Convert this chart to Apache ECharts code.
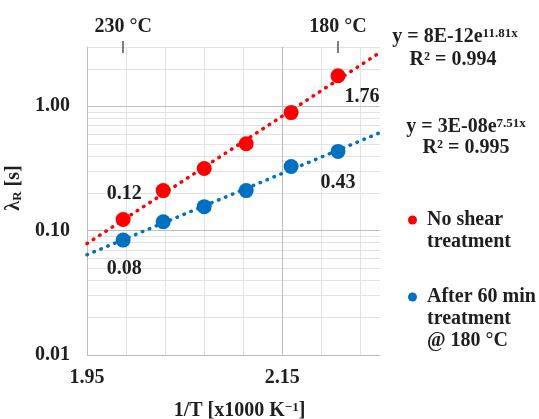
<!DOCTYPE html>
<html>
<head>
<meta charset="utf-8">
<script src="https://cdn.jsdelivr.net/npm/echarts@6/dist/echarts.min.js"></script>
<style>
  html, body { margin: 0; padding: 0; background: #fff; }
  #chart { width: 539px; height: 419px; }
</style>
</head>
<body>
<div id="chart"></div>
<script>
// Inverse temperature, 1000/T [1/K], for 230 ... 180 °C
const INV_T = [1.987, 2.028, 2.070, 2.113, 2.159, 2.207];
// Relaxation time λR [s]
const NO_SHEAR = [0.123, 0.21, 0.316, 0.50, 0.89, 1.76];
const AFTER_SHEAR = [0.084, 0.118, 0.156, 0.21, 0.328, 0.434];

const SERIES_NAMES = ['No shear treatment', 'After 60 min treatment @ 180 °C'];
// Legend text: the leading blank lines keep the marker beside the first line
const LEGEND_TEXT = ['\nNo shear\ntreatment', '\n\nAfter 60 min\ntreatment\n@ 180 °C'];

// Secondary (temperature) ticks on the top edge
const TOP_TICK_X = [1.987, 2.207];
const TOP_TICK_LABELS = ['230 °C', '180 °C'];

// Fitted equations shown beside the plot
const EQ_NO_SHEAR = ['8E-12e', '11.81x', '0.994'];
const EQ_AFTER_SHEAR = ['3E-08e', '7.51x', '0.995'];

// Axis ranges and gridlines
const X_MIN = 1.95, X_MAX = 2.25, X_STEP = 0.04;
const X_LABELS = [1.95, 2.15];
const X_MAJOR = [2.15];
const Y_MIN = 0.01, Y_MAX = 3;
const Y_MAJOR = [0.1, 1];
const Y_MINOR = [0.02, 0.03, 0.04, 0.05, 0.06, 0.07, 0.08, 0.09,
                 0.2, 0.3, 0.4, 0.5, 0.6, 0.7, 0.8, 0.9, 2, 3];

const RED = '#ff0000';
const BLUE = '#0070c0';
const TEXT = '#1f1f1f';
const FONT = 'Liberation Serif';
const FS = 20;
const FS_SMALL = 13;
const MINOR_GRID = '#e3e3e3';
const MAJOR_GRID = '#bfbfbf';

// Exponential least-squares fit  y = a * e^(b x)
function expFit(xs, ys) {
  const n = xs.length;
  const ly = ys.map(Math.log);
  const mx = xs.reduce((s, v) => s + v, 0) / n;
  const my = ly.reduce((s, v) => s + v, 0) / n;
  let sxy = 0, sxx = 0;
  for (let i = 0; i < n; i++) {
    sxy += (xs[i] - mx) * (ly[i] - my);
    sxx += (xs[i] - mx) * (xs[i] - mx);
  }
  const b = sxy / sxx;
  const a = Math.exp(my - b * mx);
  return x => a * Math.exp(b * x);
}

function trend(ys) {
  const f = expFit(INV_T, ys);
  return [[X_MIN, f(X_MIN)], [X_MAX, f(X_MAX)]];
}

const labelFont = { fontFamily: FONT, fontWeight: 'bold', fontSize: FS, color: TEXT };
const supStyle = { fontFamily: FONT, fontWeight: 'bold', fontSize: FS_SMALL, color: TEXT, verticalAlign: 'top', padding: [0, 0, 7, 0] };

// Points with value labels on the first and last marker only
function points(ys, firstOffset, lastOffset) {
  return ys.map((y, i) => {
    const item = { value: [INV_T[i], y] };
    if (i === 0 || i === ys.length - 1) {
      item.label = Object.assign({
        show: true,
        position: 'inside',
        offset: i === 0 ? firstOffset : lastOffset,
        formatter: p => p.value[1].toFixed(2)
      }, labelFont);
    }
    return item;
  });
}

const chart = echarts.init(document.getElementById('chart'), null, { renderer: 'canvas' });

const dotted = width => ({ width: width, type: [0.5, 7], cap: 'round' });

function gridLine(key, v, color) {
  const item = { lineStyle: { color: color, width: 1, type: 'solid' } };
  item[key] = v;
  return item;
}

function equation(x, y, parts) {
  return {
    type: 'text', x: x, y: y, silent: true,
    style: {
      text: '{b|y = ' + parts[0] + '}{sup|' + parts[1] + '}',
      align: 'center', verticalAlign: 'middle',
      rich: {
        b: { fontFamily: FONT, fontWeight: 'bold', fontSize: FS, fill: TEXT },
        sup: { fontFamily: FONT, fontWeight: 'bold', fontSize: FS_SMALL, fill: TEXT, verticalAlign: 'top', padding: [0, 0, 7, 0] }
      }
    }
  };
}

function rSquared(x, y, value) {
  return {
    type: 'text', x: x, y: y, silent: true,
    style: {
      text: 'R² = ' + value,
      align: 'center', verticalAlign: 'middle',
      font: 'bold ' + FS + 'px "' + FONT + '"', fill: TEXT
    }
  };
}

chart.setOption({
  animation: false,
  backgroundColor: '#ffffff',
  textStyle: { fontFamily: FONT },
  grid: { left: 87, right: 159, top: 47, bottom: 64, containLabel: false, outerBoundsMode: 'none' },
  xAxis: [
    {
      type: 'value',
      min: X_MIN, max: X_MAX, interval: X_STEP,
      axisLine: { show: true, lineStyle: { color: MAJOR_GRID, width: 1 } },
      axisTick: { show: false },
      splitLine: { show: true, showMaxLine: false, lineStyle: { color: MINOR_GRID, width: 1 } },
      axisLabel: Object.assign({
        margin: 13,
        showMaxLabel: false,
        formatter: v => X_LABELS.some(t => Math.abs(t - v) < 1e-6) ? v.toFixed(2) : ''
      }, labelFont),
      name: '1/T [x1000 K{sup|−1}]',
      nameLocation: 'middle',
      nameGap: 46,
      nameTextStyle: Object.assign({
        padding: [0, 0, 0, 12],
        rich: { sup: supStyle }
      }, labelFont)
    },
    {
      type: 'value',
      position: 'top',
      offset: -6,
      min: X_MIN, max: X_MAX,
      axisLine: { show: false },
      splitLine: { show: false },
      axisTick: {
        show: true, inside: false, length: 12,
        customValues: TOP_TICK_X,
        lineStyle: { color: '#555555', width: 1.5 }
      },
      axisLabel: Object.assign({
        margin: 16,
        customValues: TOP_TICK_X,
        formatter: v => {
          const i = TOP_TICK_X.findIndex(t => Math.abs(t - v) < 1e-6);
          return i >= 0 ? TOP_TICK_LABELS[i] : '';
        }
      }, labelFont)
    }
  ],
  yAxis: {
    type: 'log',
    logBase: 10,
    min: Y_MIN, max: Y_MAX,
    axisLine: { show: true, lineStyle: { color: MAJOR_GRID, width: 1 } },
    axisTick: { show: false },
    splitLine: { show: true, lineStyle: { color: MAJOR_GRID, width: 1 } },
    axisLabel: Object.assign({
      margin: 17,
      showMaxLabel: false,
      formatter: v => v.toFixed(2)
    }, labelFont),
    name: '{l|λ}{s|R}{l| [s]}',
    nameLocation: 'middle',
    nameRotate: 90,
    nameGap: 55,
    nameTextStyle: {
      padding: [0, 0, 0, 26],
      rich: {
        l: { fontFamily: FONT, fontWeight: 'bold', fontSize: FS, color: TEXT },
        s: { fontFamily: FONT, fontWeight: 'bold', fontSize: FS_SMALL, color: TEXT, verticalAlign: 'bottom', padding: [7, 0, 0, 0] }
      }
    }
  },
  legend: [
    {
      orient: 'vertical', left: 408, top: 187, padding: 0,
      data: [SERIES_NAMES[0]],
      icon: 'circle', itemWidth: 9, itemHeight: 9,
      formatter: n => LEGEND_TEXT[SERIES_NAMES.indexOf(n)],
      textStyle: Object.assign({ lineHeight: 22, padding: [0, 0, 0, 5] }, labelFont)
    },
    {
      orient: 'vertical', left: 408, top: 242, padding: 0,
      data: [SERIES_NAMES[1]],
      icon: 'circle', itemWidth: 9, itemHeight: 9,
      formatter: n => LEGEND_TEXT[SERIES_NAMES.indexOf(n)],
      textStyle: Object.assign({ lineHeight: 22, padding: [0, 0, 0, 5] }, labelFont)
    }
  ],
  graphic: [
    equation(455, 37, EQ_NO_SHEAR),
    rSquared(453, 60, EQ_NO_SHEAR[2]),
    equation(466, 127, EQ_AFTER_SHEAR),
    rSquared(466, 148, EQ_AFTER_SHEAR[2])
  ],
  series: [
    {
      // log-scale minor gridlines and the darker major lines, kept beneath the data
      name: 'grid',
      type: 'scatter',
      data: [],
      silent: true,
      z: 0,
      markLine: {
        z: 0,
        silent: true,
        symbol: 'none',
        label: { show: false },
        animation: false,
        data: Y_MINOR.map(v => gridLine('yAxis', v, MINOR_GRID))
          .concat(Y_MAJOR.map(v => gridLine('yAxis', v, MAJOR_GRID)))
          .concat(X_MAJOR.map(v => gridLine('xAxis', v, MAJOR_GRID)))
      }
    },
    {
      name: 'No shear fit',
      type: 'line',
      data: trend(NO_SHEAR),
      showSymbol: false,
      silent: true,
      z: 2,
      lineStyle: Object.assign({ color: RED }, dotted(3.5))
    },
    {
      name: 'After shear fit',
      type: 'line',
      data: trend(AFTER_SHEAR),
      showSymbol: false,
      silent: true,
      z: 2,
      lineStyle: Object.assign({ color: BLUE }, dotted(3.5))
    },
    {
      name: SERIES_NAMES[0],
      type: 'scatter',
      symbol: 'circle',
      symbolSize: 15,
      z: 4,
      itemStyle: { color: RED, opacity: 1 },
      data: points(NO_SHEAR, [1, -26], [24, 21])
    },
    {
      name: SERIES_NAMES[1],
      type: 'scatter',
      symbol: 'circle',
      symbolSize: 15,
      z: 4,
      itemStyle: { color: BLUE, opacity: 1 },
      data: points(AFTER_SHEAR, [1, 29], [0, 31])
    }
  ]
});
</script>
</body>
</html>
